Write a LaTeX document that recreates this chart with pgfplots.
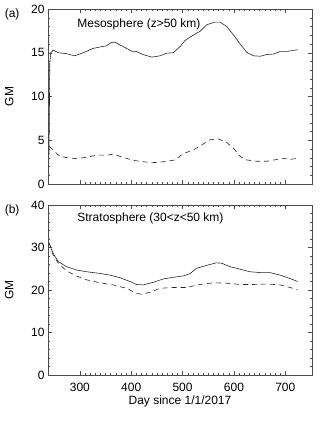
\documentclass[border=0pt]{standalone}
\usepackage{pgfplots}
\pgfplotsset{compat=1.18}
\usepackage{fontspec}
\setmainfont{Liberation Sans}

\pgfplotsset{
  gmpanel/.style={
    scale only axis,
    width=264pt,
    xmin=238, xmax=752,
    xtick={300,400,...,700},
    minor x tick num=9,
    tick align=inside,
    major tick length=4pt,
    minor tick length=2pt,
    tick style={black!70, line width=0.4pt},
    axis line style={black!70, line width=0.5pt},
    font=\fontsize{12}{14}\selectfont,
    /pgf/number format/assume math mode=true,
    ylabel={GM},
    ylabel style={at={(rel axis cs:0,0.5)}, anchor=south, yshift=31pt},
    xticklabel style={yshift=-5pt},
    clip=false,
  },
  solidline/.style={black!85, line width=0.6pt},
  dashline/.style={black!85, line width=0.6pt, dash pattern=on 5pt off 4pt},
}

\begin{document}
\begin{tikzpicture}
\path (0,0) rectangle (320pt,-421pt);

%% (a) mesosphere
\begin{axis}[gmpanel,
    at={(48pt,-9pt)}, anchor=north west,
    height=175pt,
    ymin=0, ymax=20,
    ytick={0,5,...,20},
    minor y tick num=4,
    xticklabels={},
]
\addplot[solidline] coordinates {
 (240,3.3) (241.5,13.8) (243.5,15.0) (248,15.3) (258,15.0) (274,14.9)
 (290,14.65) (306.5,15.0) (326,15.5) (339,15.65) (352,15.8) (362,16.2)
 (368,16.2) (384.5,15.7) (404,15.1) (410,15.15) (423,14.8) (440,14.5)
 (456,14.65) (469,14.95) (482,15.0) (495,15.7) (504.7,16.4) (517.7,16.9)
 (534,17.45) (547,18.2) (563,18.5) (573,18.5) (586,18.0) (599,17.05)
 (612,16.0) (625,15.05) (638,14.65) (651,14.6) (664,14.8) (677,14.85)
 (690,15.15) (703,15.15) (724,15.35)
};
\addplot[dashline] coordinates {
 (240,4.3) (248,3.9) (258,3.3) (274,3.0) (293.5,2.9) (313,3.05)
 (332.5,3.3) (352,3.3) (365,3.4) (384.5,3.05) (404,2.7) (430,2.5)
 (449.5,2.45) (469,2.6) (485,2.75) (501,3.45) (521,3.9) (537,4.45)
 (553,5.05) (570,5.15) (586,4.75) (599,4.1) (612,3.15) (625,2.75)
 (644,2.6) (664,2.6) (683,2.8) (696,2.95) (709,2.8) (724,2.95)
};
\node[anchor=west] at (rel axis cs:0.098,0.914) {Mesosphere (z>50 km)};
\node[anchor=base east] at (rel axis cs:0,1) [xshift=-25pt, yshift=-8pt] {(a)};
\end{axis}

%% (b) stratosphere
\begin{axis}[gmpanel,
    at={(48pt,-205pt)}, anchor=north west,
    height=170pt,
    ymin=0, ymax=40,
    ytick={0,10,...,40},
    minor y tick num=4,
    xlabel={Day since 1/1/2017},
    xlabel style={yshift=3pt},
]
\addplot[solidline] coordinates {
 (240,31.1) (248,28.6) (258,26.7) (274,25.5) (293.5,24.7) (313,24.3)
 (339,23.9) (358.5,23.5) (378,22.9) (397.5,22.0) (410,21.3) (423,21.2)
 (443,21.8) (462.5,22.6) (482,23.0) (501,23.3) (514,23.8) (527,25.1)
 (547,25.8) (566,26.4) (576,26.3) (592,25.5) (612,24.9) (631,24.3)
 (651,24.1) (670,24.1) (690,23.5) (709,22.7) (724,22.0)
};
\addplot[dashline] coordinates {
 (240,31.1) (248,28.2) (258,26.3) (274,24.5) (293.5,23.3) (313,22.4)
 (339,21.7) (365,21.2) (391,20.4) (410,19.2) (420,19.0) (436,19.45)
 (456,20.4) (482,20.6) (508,20.6) (534,21.3) (560,21.7) (586,21.6)
 (612,21.3) (638,21.3) (664,21.4) (690,21.2) (709,20.6) (724,20.0)
};
\node[anchor=west] at (rel axis cs:0.098,0.92) {Stratosphere (30<z<50 km)};
\node[anchor=base east] at (rel axis cs:0,1) [xshift=-25pt, yshift=-8pt] {(b)};
\end{axis}
\end{tikzpicture}
\end{document}
